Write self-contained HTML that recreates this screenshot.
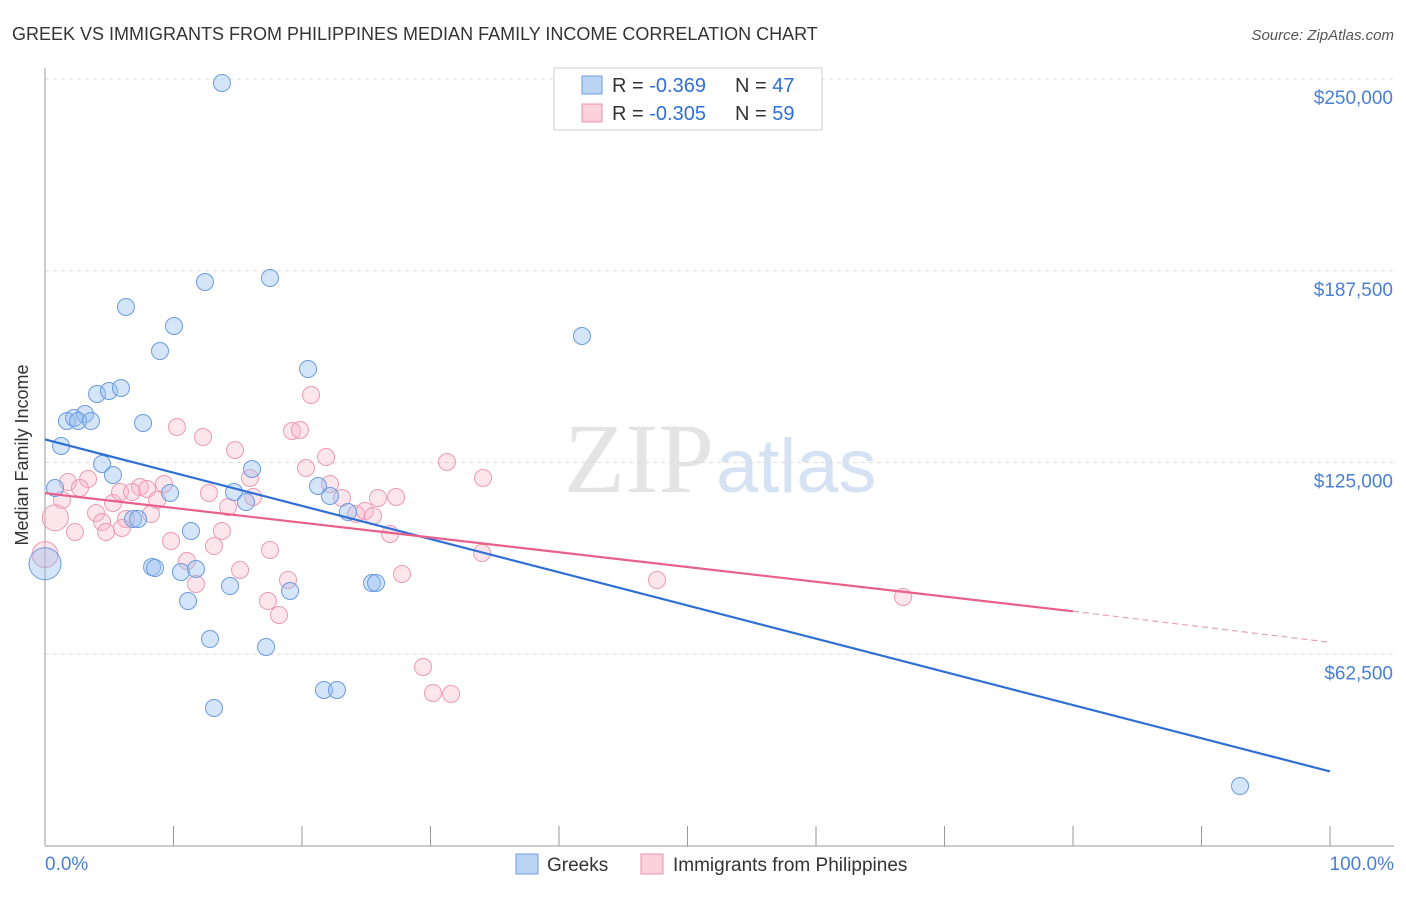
<!DOCTYPE html>
<html><head><meta charset="utf-8"><style>
body{margin:0;background:#fff;font-family:"Liberation Sans",sans-serif}
</style></head><body>
<svg width="1406" height="892" xmlns="http://www.w3.org/2000/svg" id="svg">
<text x="12" y="40" font-size="18" fill="#333">GREEK VS IMMIGRANTS FROM PHILIPPINES MEDIAN FAMILY INCOME CORRELATION CHART</text>
<text x="1394" y="40" font-size="15" fill="#555" text-anchor="end" font-style="italic">Source: ZipAtlas.com</text>
<text x="714" y="492" font-size="100" fill="#e4e4e4" text-anchor="end" font-family="Liberation Serif">ZIP</text>
<text x="716" y="492" font-size="76" fill="#d4e2f4">atlas</text>
<g id="grid"></g>
<line x1="45" y1="68" x2="45" y2="846" stroke="#999"/>
<line x1="45" y1="846" x2="1394" y2="846" stroke="#999"/>
<g id="xt"></g>
<text x="28" y="455" font-size="18" fill="#333" text-anchor="middle" transform="rotate(-90 28 455)">Median Family Income</text>
<text x="45" y="870" font-size="19" fill="#4a7fd4">0.0%</text>
<text x="1394" y="870" font-size="19" fill="#4a7fd4" text-anchor="end">100.0%</text>
<g id="pts"></g>
<g id="lines"></g>
<g>
<rect x="554" y="68" width="268" height="62" fill="#fff" stroke="#ccc"/>
<rect x="582" y="76" width="20" height="18" fill="#bcd4f4" stroke="#6a9be0"/>
<rect x="582" y="104" width="20" height="18" fill="#fcd0dc" stroke="#ea90aa"/>
<text x="612" y="92" font-size="20" fill="#333">R = <tspan fill="#2f6fd6">-0.369</tspan></text>
<text x="735" y="92" font-size="20" fill="#333">N = <tspan fill="#2f6fd6">47</tspan></text>
<text x="612" y="120" font-size="20" fill="#333">R = <tspan fill="#2f6fd6">-0.305</tspan></text>
<text x="735" y="120" font-size="20" fill="#333">N = <tspan fill="#2f6fd6">59</tspan></text>
</g>
<g>
<rect x="516" y="854" width="22" height="20" fill="#bcd4f4" stroke="#6a9be0"/>
<text x="547" y="871" font-size="19" fill="#333">Greeks</text>
<rect x="641" y="854" width="22" height="20" fill="#fcd0dc" stroke="#ea90aa"/>
<text x="673" y="871" font-size="19" fill="#333">Immigrants from Philippines</text>
</g>
</svg>
<script>
const yTicks=[62500,125000,187500,250000];
const yTickLabels=["$62,500","$125,000","$187,500","$250,000"];
const greeksPx=[[222,83],[126,307],[205,282],[270,278],[174,326],[160,351],[582,336],[308,369],[97,394],[109,391],[121,388],[67,421],[74,418],[85,414],[78,421],[91,421],[143,423],[61,446],[102,464],[113,475],[252,469],[55,488],[170,493],[234,492],[246,502],[318,486],[330,496],[348,512],[191,531],[133,519],[138,519],[152,567],[155,568],[181,572],[196,569],[230,586],[290,591],[372,583],[376,583],[188,601],[210,639],[266,647],[324,690],[337,690],[214,708],[1240,786]];
const philPx=[[311,395],[177,427],[203,437],[292,431],[300,430],[235,450],[326,457],[447,462],[483,478],[306,468],[68,482],[88,479],[80,488],[62,500],[140,487],[113,503],[120,492],[126,519],[132,492],[147,489],[157,500],[164,484],[151,514],[96,513],[102,522],[106,532],[75,532],[122,528],[209,493],[250,478],[253,497],[222,531],[228,507],[171,541],[214,546],[270,550],[330,484],[342,498],[356,514],[365,511],[373,516],[378,498],[396,497],[390,534],[482,553],[187,561],[196,584],[240,570],[288,580],[402,574],[657,580],[903,597],[268,601],[279,615],[423,667],[433,693],[451,694]];
const greeksX=greeksPx.map(p=>+((p[0]-45)/12.85).toFixed(2));
const greeksY=greeksPx.map(p=>Math.round((846-p[1])/767*250000));
const philX=philPx.map(p=>+((p[0]-45)/12.85).toFixed(2));
const philY=philPx.map(p=>Math.round((846-p[1])/767*250000));
const bigGreeks=[[0,92000]], bigPhil=[[0,95000],[0.8,107000]];
const greekTrend=[[0,132500],[100,24300]];
const philTrend=[[0,115000],[80,76500],[100,66400]];
const X=v=>45+v*12.85, Y=v=>846-v/250000*767;
const NS="http://www.w3.org/2000/svg";
function mk(t,a,p){const e=document.createElementNS(NS,t);for(const k in a)e.setAttribute(k,a[k]);p.appendChild(e);return e;}
const grid=document.getElementById('grid');
yTicks.forEach((v,i)=>{
 const l=mk('line',{x1:45,x2:1394,y1:Y(v),y2:Y(v),stroke:'#ddd','stroke-dasharray':'4 4'},grid);
 
 
 const t=mk('text',{x:1393,y:Y(v)+25,'font-size':19,fill:'#4a7fd4','text-anchor':'end'},grid);
 t.textContent=yTickLabels[i];
 
 
});
const xt=document.getElementById('xt');
for(let i=1;i<=10;i++){const l=mk('line',{x1:X(i*10),x2:X(i*10),y1:826,y2:846,stroke:'#999'},xt);
 
 }
const pts=document.getElementById('pts');
function dot(x,y,r,blue){const c=mk('circle',{cx:X(x),cy:Y(y),r:r,fill:blue?'rgba(150,190,240,0.4)':'rgba(248,180,200,0.35)',stroke:blue?'#6a9be0':'#ec9ab2','stroke-width':1},pts);
 
 }
philX.forEach((x,i)=>dot(x,philY[i],8.5,false));
greeksX.forEach((x,i)=>dot(x,greeksY[i],8.5,true));
bigPhil.forEach(p=>dot(p[0],p[1],13,false));
bigGreeks.forEach(p=>dot(p[0],p[1],16,true));
const lines=document.getElementById('lines');
let g=mk('line',{x1:X(greekTrend[0][0]),y1:Y(greekTrend[0][1]),x2:X(greekTrend[1][0]),y2:Y(greekTrend[1][1]),stroke:'#2f6fd6','stroke-width':2.2},lines);


let p1=mk('line',{x1:X(philTrend[0][0]),y1:Y(philTrend[0][1]),x2:X(philTrend[1][0]),y2:Y(philTrend[1][1]),stroke:'#e8608a','stroke-width':2.2},lines);


let p2=mk('line',{x1:X(philTrend[1][0]),y1:Y(philTrend[1][1]),x2:X(philTrend[2][0]),y2:Y(philTrend[2][1]),stroke:'#e8a0b8','stroke-width':1.2,'stroke-dasharray':'6 4'},lines);


</script>
</body></html>
